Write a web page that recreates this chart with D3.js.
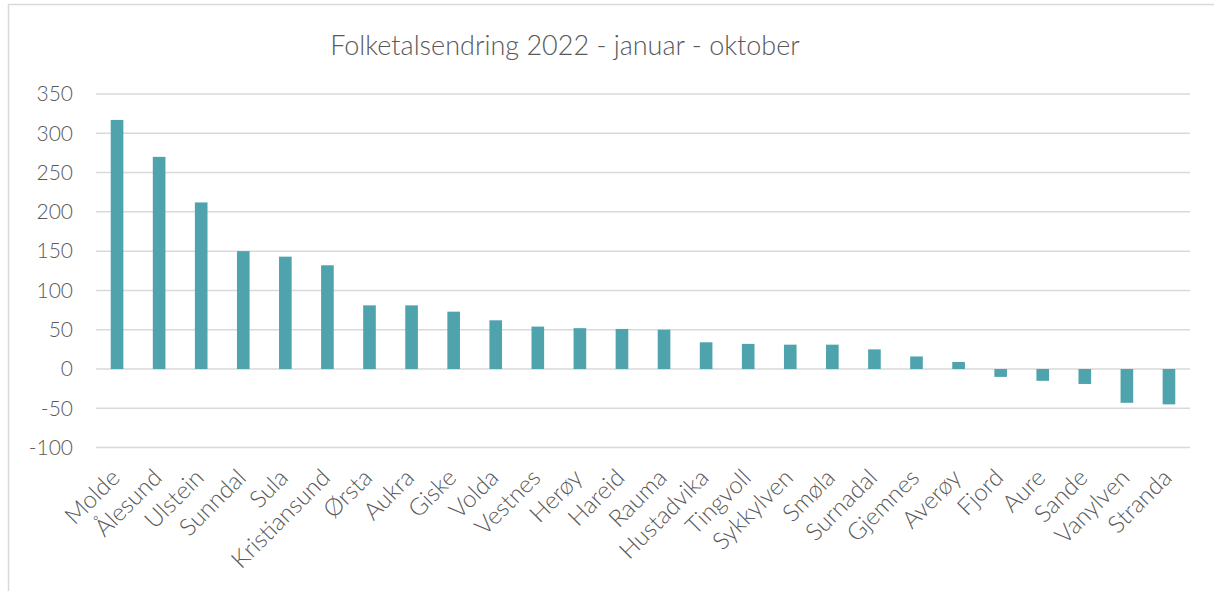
<!DOCTYPE html>
<html>
<head>
<meta charset="utf-8">
<script src="https://cdn.jsdelivr.net/npm/d3@7"></script>
<style>
  body { margin: 0; background: #fff; }
  text { font-family: Lato, "Open Sans", sans-serif; font-weight: 300; fill: #595959; }
</style>
</head>
<body>
<div id="main"></div>
<script>
// kommunar og folketalsendring jan-okt 2022
const kommunar = ['Molde', 'Ålesund', 'Ulstein', 'Sunndal', 'Sula', 'Kristiansund', 'Ørsta', 'Aukra',
  'Giske', 'Volda', 'Vestnes', 'Herøy', 'Hareid', 'Rauma', 'Hustadvika', 'Tingvoll', 'Sykkylven',
  'Smøla', 'Surnadal', 'Gjemnes', 'Averøy', 'Fjord', 'Aure', 'Sande', 'Vanylven', 'Stranda'];
const endring = [317, 270, 212, 150, 143, 132, 81, 81, 73, 62, 54, 52, 51, 50, 34, 32, 31, 31, 25,
  16, 9, -10, -15, -19, -43, -45];
const yTicks = [-100, -50, 0, 50, 100, 150, 200, 250, 300, 350];
const title = 'Folketalsendring 2022 - januar - oktober';

const width = 1214;
const height = 591;
const plotLeft = 96, plotRight = 1190, plotTop = 94, plotBottom = 447.6;

const svg = d3.select('#main').append('svg')
    .attr('width', width)
    .attr('height', height);

svg.append('rect')
    .attr('x', 8.5).attr('y', 4.5)
    .attr('width', 1220).attr('height', 600)
    .attr('fill', 'none')
    .attr('stroke', '#d9d9d9')
    .attr('stroke-width', 1.5);

const x = d3.scaleBand()
    .domain(kommunar)
    .range([plotLeft, plotRight])
    .paddingInner(0.7)
    .paddingOuter(0.35);

const y = d3.scaleLinear()
    .domain([-100, 350])
    .range([plotBottom, plotTop]);

// gridlines
svg.append('g')
    .selectAll('line')
    .data(yTicks)
    .enter()
    .append('line')
    .attr('x1', plotLeft).attr('x2', plotRight)
    .attr('y1', d => y(d)).attr('y2', d => y(d))
    .attr('stroke', '#d9d9d9')
    .attr('stroke-width', 1.5);

// y axis labels (plain hyphen for minus, like the original)
const yAxis = svg.append('g')
    .attr('transform', `translate(${plotLeft}, 0)`)
    .call(d3.axisLeft(y).tickValues(yTicks).tickSize(0).tickPadding(23).tickFormat(d => String(d)));
yAxis.select('.domain').remove();
yAxis.selectAll('text')
    .style('font-size', '21px')
    .style('font-family', 'Lato, sans-serif')
    .style('font-weight', 300)
    .attr('fill', '#595959');

// bars
svg.append('g')
    .selectAll('rect')
    .data(endring)
    .enter()
    .append('rect')
    .attr('x', (d, i) => x(kommunar[i]))
    .attr('width', x.bandwidth())
    .attr('y', d => y(Math.max(0, d)))
    .attr('height', d => Math.abs(y(d) - y(0)))
    .attr('fill', '#4ea3ad');

// category labels
svg.append('g')
    .selectAll('text')
    .data(kommunar)
    .enter()
    .append('text')
    .attr('transform', d => `translate(${x(d) + x.bandwidth() / 2 - 8}, 467) rotate(-45)`)
    .attr('text-anchor', 'end')
    .attr('dy', '0.72em')
    .style('font-size', '24px')
    .text(d => d);

svg.append('text')
    .attr('x', 565)
    .attr('y', 55)
    .attr('text-anchor', 'middle')
    .style('font-size', '27px')
    .text(title);
</script>
</body>
</html>
